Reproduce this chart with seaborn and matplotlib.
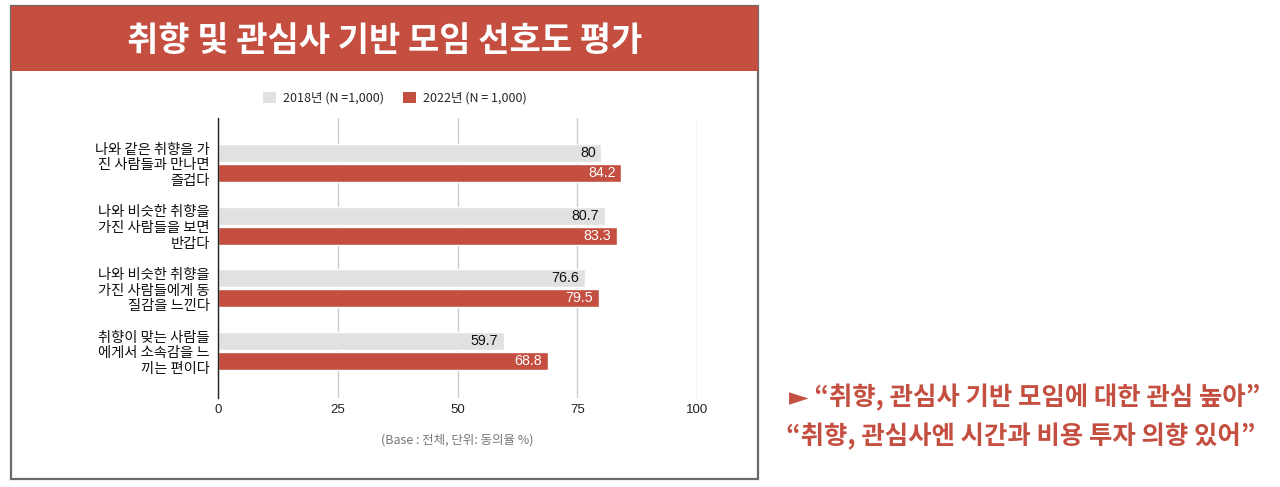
import matplotlib
matplotlib.use("Agg")
import matplotlib.pyplot as plt
from matplotlib.patches import Rectangle, Patch
import seaborn as sns
import pandas as pd

categories = [
    "나와 같은 취향을 가\n진 사람들과 만나면\n즐겁다",
    "나와 비슷한 취향을\n가진 사람들을 보면\n반갑다",
    "나와 비슷한 취향을\n가진 사람들에게 동\n질감을 느낀다",
    "취향이 맞는 사람들\n에게서 소속감을 느\n끼는 편이다",
]
series_names = ["2018년 (N =1,000)", "2022년 (N = 1,000)"]
values_2018 = [80, 80.7, 76.6, 59.7]
values_2022 = [84.2, 83.3, 79.5, 68.8]
x_ticks = [0, 25, 50, 75, 100]

RED = "#C44E3F"
GRAY = "#E3E1DF"

df = pd.DataFrame({
    "cat": categories * 2,
    "series": [series_names[0]] * 4 + [series_names[1]] * 4,
    "value": values_2018 + values_2022,
})

sns.set_theme(style="white")
FONTS = ["Noto Sans CJK KR", "DejaVu Sans"]
plt.rcParams["font.family"] = FONTS

W, H = 1280, 487
fig = plt.figure(figsize=(W / 100, H / 100), dpi=100)

def fx(px):
    return px / W

def fy(py):
    return 1 - py / H

# frame and banner
fig.patches.append(Rectangle((fx(11), fy(479)), fx(758) - fx(11), fy(6) - fy(479),
                             transform=fig.transFigure, fill=False,
                             edgecolor="#6b6b6b", linewidth=1.6, zorder=0))
fig.patches.append(Rectangle((fx(11), fy(71)), fx(758) - fx(11), fy(6) - fy(71),
                             transform=fig.transFigure, facecolor=RED,
                             edgecolor="none", zorder=1))
fig.text(fx(385), fy(41), "취향 및 관심사 기반 모임 선호도 평가", color="white",
         fontsize=24.5, fontweight="bold", ha="center", va="center")

ax = fig.add_axes([fx(218), fy(398), fx(697) - fx(218), fy(118) - fy(398)])
sns.barplot(data=df, x="value", y="cat", hue="series", orient="h",
            palette=[GRAY, RED], width=0.64, gap=0.1, ax=ax, legend=False,
            saturation=1)

ax.set_xlim(0, 100)
ax.set_ylim(3.75, -0.72)
ax.set_xticks(x_ticks)
ax.set_xticklabels([str(t) for t in x_ticks], fontsize=9.5, color="#222222",
                   family=["Liberation Sans", "DejaVu Sans"])
ax.tick_params(axis="x", length=0, pad=4)
ax.tick_params(axis="y", length=0, pad=6)
ax.set_yticklabels(categories, fontsize=10.3, color="#111111", ha="right",
                   linespacing=1.15)
ax.set_xlabel("")
ax.set_ylabel("")
ax.grid(axis="x", color="#cccccc", linewidth=1)
ax.set_axisbelow(True)
for s in ["top", "right", "bottom"]:
    ax.spines[s].set_visible(False)
ax.spines["left"].set_color("#222222")
ax.spines["left"].set_linewidth(1)

for i, cont in enumerate(ax.containers):
    col = "#111111" if i == 0 else "white"
    for rect, v in zip(cont.patches, cont.datavalues):
        ax.annotate(f"{v:g}", xy=(rect.get_width(), rect.get_y() + rect.get_height() / 2),
                    xytext=(-4, 0), textcoords="offset points", ha="right",
                    va="center", color=col, fontsize=10.3,
                    family=["Liberation Sans", "DejaVu Sans"])

handles = [Patch(facecolor=GRAY, edgecolor="none"), Patch(facecolor=RED, edgecolor="none")]
fig.legend(handles, series_names, loc="center", bbox_to_anchor=(fx(395), fy(98)),
           ncol=2, frameon=False, fontsize=9, handlelength=1.0, handleheight=1.0,
           columnspacing=1.5, handletextpad=0.6)

fig.text(fx(457), fy(440), "(Base : 전체, 단위: 동의율 %)", color="#777777",
         fontsize=9, ha="center", va="center")

fig.text(fx(1260), fy(398), "► “취향, 관심사 기반 모임에 대한 관심 높아”", color=RED,
         fontsize=18.3, fontweight="bold", ha="right", va="center",
         family=["Noto Sans CJK KR", "DejaVu Sans"])
fig.text(fx(1255), fy(437), "“취향, 관심사엔 시간과 비용 투자 의향 있어”", color=RED,
         fontsize=18.3, fontweight="bold", ha="right", va="center")

fig.savefig("out.png", dpi=100, facecolor="white")
